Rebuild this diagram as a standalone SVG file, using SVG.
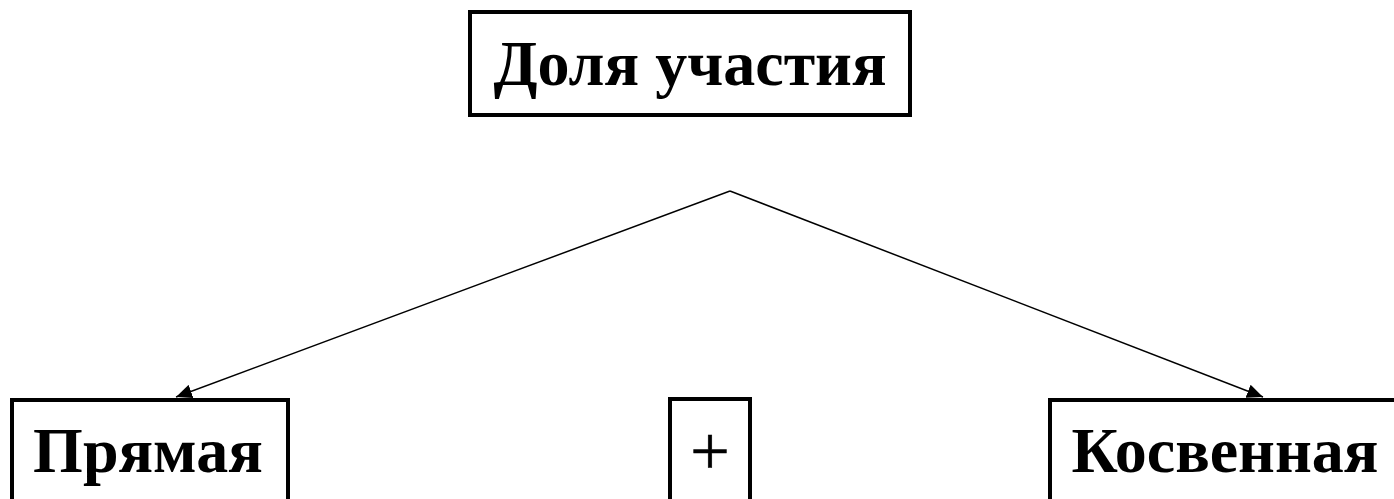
<svg xmlns="http://www.w3.org/2000/svg" width="1394" height="499" viewBox="0 0 1394 499">
<style>
.box{fill:#fff;stroke:#000;stroke-width:4}
.t{font-family:"Liberation Serif","Times New Roman",serif;font-weight:bold;font-size:64px;fill:#000;text-anchor:middle}
.p{font-family:"Liberation Serif","Times New Roman",serif;font-size:70px;fill:#000;text-anchor:middle;stroke:#000;stroke-width:0.6}
.c{stroke:#000;stroke-width:1.5;fill:none}
</style>
<defs>
<marker id="ah" markerWidth="16" markerHeight="14" refX="16" refY="7" orient="auto" markerUnits="userSpaceOnUse">
<path d="M0,0 L16,7 L0,14 Z" fill="#000"/>
</marker>
</defs>
<rect width="1394" height="499" fill="#fff"/>
<g id="connectors">
<line class="c" x1="730" y1="191" x2="176" y2="397" marker-end="url(#ah)"/>
<line class="c" x1="730" y1="191" x2="1263" y2="397" marker-end="url(#ah)"/>
</g>
<g id="node-dolya">
<rect class="box" x="470" y="12" width="440" height="103"/>
<text class="t" x="690" y="85">Доля участия</text>
</g>
<g id="node-pryamaya">
<rect class="box" x="12" y="400" width="276" height="110"/>
<text class="t" x="148" y="472">Прямая</text>
</g>
<g id="node-plus">
<rect class="box" x="670" y="399" width="80" height="110"/>
<text class="p" x="710" y="475">+</text>
</g>
<g id="node-kosvennaya">
<rect class="box" x="1050" y="400" width="360" height="110"/>
<text class="t" x="1225" y="472">Косвенная</text>
</g>
</svg>
